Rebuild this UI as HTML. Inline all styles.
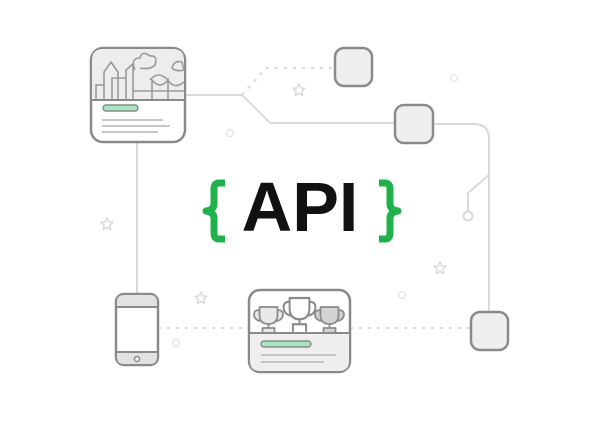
<!DOCTYPE html>
<html><head><style>body{margin:0;background:#fff}svg{display:block}</style></head>
<body>
<svg width="600" height="424" viewBox="0 0 600 424" xmlns="http://www.w3.org/2000/svg">
<defs>
<path id="star" d="M0,-6 L1.8,-2 L6,-1.8 L2.8,1.2 L3.7,5.5 L0,3.3 L-3.7,5.5 L-2.8,1.2 L-6,-1.8 L-1.8,-2 Z" fill="none" stroke="#d6d6d6" stroke-width="1.3" stroke-linejoin="round"/>
<g id="tro">
<path d="M-9,0 H9 V8 Q9,17 0,17 Q-9,17 -9,8 Z M-9,3 Q-16,3 -14,10 Q-12,14 -7,14 M9,3 Q16,3 14,10 Q12,14 7,14 M0,17 V21 M-6,27 V21 H6 V27"/>
</g>
</defs>
<g fill="none" stroke="#d9d9d9" stroke-width="2">
<path d="M185,95 H242 L270,123 H394"/>
<path d="M433,124 H474 Q489,124 489,139 V312"/>
<path d="M489,175 L468,193 V212"/>
<circle cx="468" cy="216" r="4.5"/>
<path d="M137,142 V294"/>
<path d="M242,95 L266,68 H334" stroke-dasharray="3,6"/>
<path d="M158,328 H248" stroke-dasharray="3,6"/>
<path d="M350,328 H470" stroke-dasharray="3,6"/>
</g>
<g fill="none" stroke="#e6e6e6" stroke-width="1.5">
<circle cx="230" cy="133" r="3.5"/><circle cx="454" cy="78" r="3.5"/>
<circle cx="402" cy="295" r="3.5"/><circle cx="176" cy="343" r="3.5"/>
</g>
<use href="#star" x="299" y="90"/><use href="#star" x="107" y="224"/>
<use href="#star" x="201" y="298"/><use href="#star" x="440" y="268"/>
<g stroke="#8a8a8a" stroke-width="2.5" fill="#efefef">
<rect x="335" y="48" width="37" height="38" rx="9"/>
<rect x="395" y="105" width="38" height="38" rx="9"/>
<rect x="471" y="312" width="37" height="38" rx="9"/>
</g>
<!-- top card -->
<rect x="91" y="48" width="94" height="94" rx="12" fill="#fff" stroke="#8a8a8a" stroke-width="2.5"/>
<path d="M92,100 V60 Q92,49 103,49 H173 Q184,49 184,60 V100 Z" fill="#ededed"/>
<g fill="none" stroke="#9a9a9a" stroke-width="1.6">
<path d="M96,100 V85 H104 V100 M104,100 V72 L111,62 L118,72 V100 M112,100 V78 H126 V100 M126,100 V70 L133,64 V100 M133,100 V90 M135,70 Q130,58 140,58 Q142,50 150,56 Q158,55 155,65 Q150,70 140,68"/>
<path d="M152,100 V80 Q160,90 168,80 V100 M150,80 Q158,70 168,80 M168,80 Q174,90 184,82 M172,68 Q174,60 182,62 L184,70 Q176,72 172,68"/>
<path d="M133,91 H184"/>
</g>
<line x1="92" y1="100" x2="184" y2="100" stroke="#8a8a8a" stroke-width="2"/>
<rect x="103" y="105" width="35" height="6" rx="3" fill="#a8e4bd" stroke="#8a8a8a" stroke-width="1.4"/>
<g stroke="#b5b5b5" stroke-width="1.5"><line x1="102" y1="120" x2="163" y2="120"/><line x1="102" y1="126" x2="170" y2="126"/><line x1="102" y1="132" x2="158" y2="132"/></g>
<!-- trophy card -->
<rect x="249" y="290" width="101" height="82" rx="11" fill="#fff" stroke="#8a8a8a" stroke-width="2.5"/>
<path d="M250,333 H349 V361 Q349,371 339,371 H260 Q250,371 250,361 Z" fill="#efefef"/>
<g stroke="#8a8a8a" stroke-width="1.8" stroke-linejoin="round">
<use href="#tro" x="0" y="0" transform="translate(268.5,307)" fill="#e8e8e8"/>
<use href="#tro" transform="translate(299.5,298) scale(1.1,1.25)" fill="#fff"/>
<use href="#tro" transform="translate(329.5,307)" fill="#d4d4d4"/>
</g>
<line x1="250" y1="333" x2="349" y2="333" stroke="#8a8a8a" stroke-width="2"/>
<rect x="261" y="341" width="50" height="6" rx="3" fill="#a8e4bd" stroke="#8a8a8a" stroke-width="1.4"/>
<g stroke="#b5b5b5" stroke-width="1.5"><line x1="261" y1="355" x2="336" y2="355"/><line x1="261" y1="362" x2="324" y2="362"/></g>
<!-- phone -->
<rect x="116" y="294" width="42" height="71" rx="8" fill="#fff" stroke="#8a8a8a" stroke-width="2.5"/>
<path d="M117,307 V302 Q117,295 124,295 H150 Q157,295 157,302 V307 Z" fill="#e2e2e2"/>
<path d="M117,352 V357 Q117,364 124,364 H150 Q157,364 157,357 V352 Z" fill="#e2e2e2"/>
<g stroke="#8a8a8a" stroke-width="2"><line x1="117" y1="307" x2="157" y2="307"/><line x1="117" y1="352" x2="157" y2="352"/></g>
<circle cx="137" cy="359" r="2.5" fill="#fff" stroke="#8a8a8a" stroke-width="1.5"/>
<!-- API -->
<text x="300" y="231" text-anchor="middle" font-family="Liberation Sans, sans-serif" font-weight="bold" font-size="70" fill="#111">API</text>
<g fill="none" stroke="#21b14b" stroke-width="7" stroke-linejoin="round">
<path d="M225,183 H219 Q214,183 214,189 V204 Q214,210 206,211 Q214,212 214,218 V233 Q214,239 219,239 H225"/>
<path d="M379,183 H385 Q390,183 390,189 V204 Q390,210 398,211 Q390,212 390,218 V233 Q390,239 385,239 H379"/>
</g>
</svg>
</body></html>
